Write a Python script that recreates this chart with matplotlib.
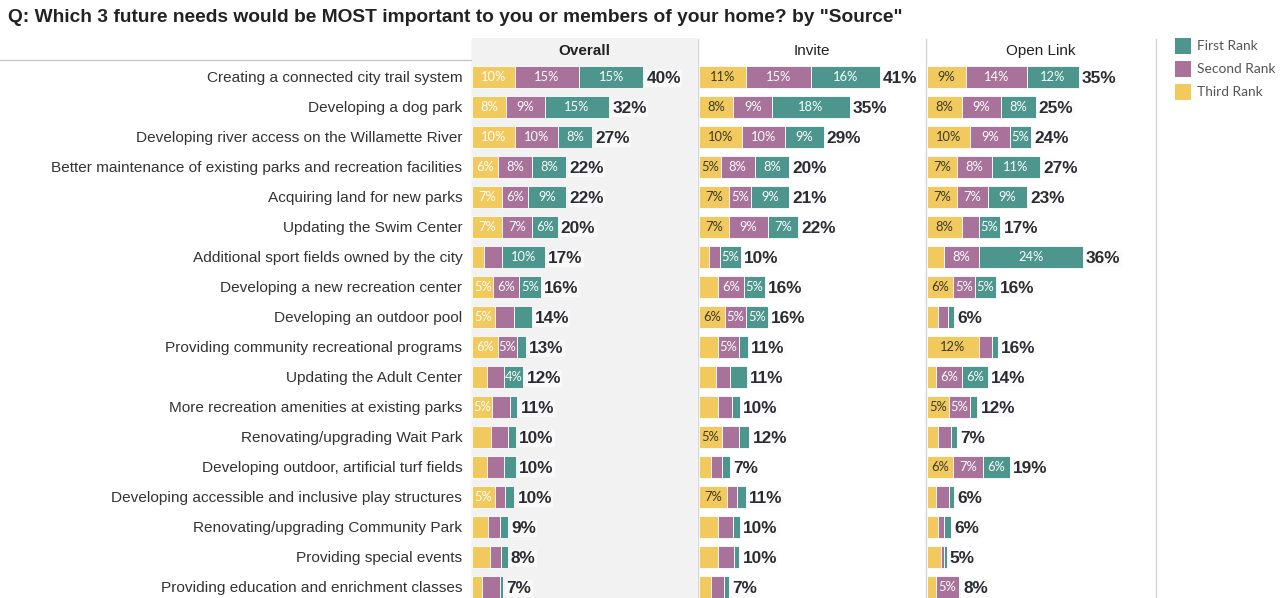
import matplotlib
matplotlib.use("Agg")
import matplotlib.pyplot as plt
from matplotlib.patches import Rectangle

plt.rcParams['font.family'] = ['Liberation Sans', 'DejaVu Sans']

title = 'Q: Which 3 future needs would be MOST important to you or members of your home? by "Source"'

categories = [
    "Creating a connected city trail system",
    "Developing a dog park",
    "Developing river access on the Willamette River",
    "Better maintenance of existing parks and recreation facilities",
    "Acquiring land for new parks",
    "Updating the Swim Center",
    "Additional sport fields owned by the city",
    "Developing a new recreation center",
    "Developing an outdoor pool",
    "Providing community recreational programs",
    "Updating the Adult Center",
    "More recreation amenities at existing parks",
    "Renovating/upgrading Wait Park",
    "Developing outdoor, artificial turf fields",
    "Developing accessible and inclusive play structures",
    "Renovating/upgrading Community Park",
    "Providing special events",
    "Providing education and enrichment classes",
]

panels = ["Overall", "Invite", "Open Link"]
series_names = ["Third Rank", "Second Rank", "First Rank"]

# Overall
overall_third = [10, 8, 10, 6, 7, 7, 2.7, 5, 5.3, 6, 3.4, 4.7, 4.4, 3.4, 5.4, 3.8, 4.1, 2.4]
overall_second = [15, 9, 10, 8, 6, 7, 4.3, 6, 4.4, 4.6, 4.1, 4.1, 3.9, 4.1, 2.4, 2.7, 2.6, 4.1]
overall_first = [15, 15, 8, 8, 9, 6, 10, 5, 4.2, 2.0, 4.5, 1.8, 2.0, 2.8, 2.1, 1.9, 1.6, 0.8]
overall_total = [40, 32, 27, 22, 22, 20, 17, 16, 14, 13, 12, 11, 10, 10, 10, 9, 8, 7]

# Invite
invite_third = [11, 8, 10, 5, 7, 7, 2.3, 4.4, 6, 4.3, 4.0, 4.4, 5.3, 2.7, 6.6, 4.3, 4.3, 2.9]
invite_second = [15, 9, 10, 8, 5, 9, 2.6, 6, 5, 4.9, 3.3, 3.3, 3.9, 2.6, 2.2, 3.6, 3.9, 2.9]
invite_first = [16, 18, 9, 8, 9, 7, 4.9, 5, 5, 2.2, 3.8, 1.8, 2.5, 1.9, 2.2, 1.6, 1.2, 1.2]
invite_total = [41, 35, 29, 20, 21, 22, 10, 16, 16, 11, 11, 10, 12, 7, 11, 10, 10, 7]

# Open Link
open_third = [9, 8, 10, 7, 7, 8, 3.9, 6, 2.6, 12, 2.0, 5, 2.6, 6, 2.0, 2.6, 3.3, 2.0]
open_second = [14, 9, 9, 8, 7, 3.9, 8, 5, 2.2, 3.0, 6, 5, 3.0, 7, 3.0, 1.3, 0.6, 5.3]
open_first = [12, 8, 5, 11, 9, 5, 24, 5, 1.4, 1.3, 6, 1.6, 1.3, 6, 1.3, 1.6, 0.6, 0.3]
open_total = [35, 25, 24, 27, 23, 17, 36, 16, 6, 16, 14, 12, 7, 19, 6, 6, 5, 8]

panel_data = [
    (overall_third, overall_second, overall_first, overall_total),
    (invite_third, invite_second, invite_first, invite_total),
    (open_third, open_second, open_first, open_total),
]

colors = {"Third Rank": "#f1c95c", "Second Rank": "#a9729b", "First Rank": "#4c968d"}
text_dark = "#333333"

W, H = 1288, 598
fig = plt.figure(figsize=(W / 100, H / 100), dpi=100)

bg = fig.add_axes([0, 0, 1, 1])
bg.set_xlim(0, W)
bg.set_ylim(H, 0)
bg.axis("off")

def rect(x0, y0, x1, y1):
    return [x0 / W, 1 - y1 / H, (x1 - x0) / W, (y1 - y0) / H]

# Title
bg.text(8, 18, title, fontsize=13.8, fontweight="bold", color="#222222",
        va="center", ha="left")

# Decorative separators
line_c = "#d4d4d4"
bg.plot([0, 472], [60, 60], color="#c8c8c8", lw=1)
for xv in [472, 698, 926, 1156]:
    bg.plot([xv, xv], [39, H], color=line_c, lw=1)

panel_px = [(472, 697), (699, 925), (927, 1155)]
n = len(categories)
for p, (name, (x0, x1), data) in enumerate(zip(panels, panel_px, panel_data)):
    ax = fig.add_axes(rect(x0, 38, x1, H))
    ax.set_xlim(0, 52.5)
    ax.set_ylim(17.37, -1.3)
    if p == 0:
        ax.set_facecolor("#f2f2f2")
    else:
        ax.set_facecolor("none")
    for s in ax.spines.values():
        s.set_visible(False)
    ax.set_xticks([])
    if p == 0:
        ax.set_yticks(range(n))
        ax.set_yticklabels(categories, fontsize=11.1, color=text_dark)
        ax.tick_params(axis="y", length=0, pad=7)
    else:
        ax.set_yticks([])

    third, second, first, total = data
    left = [0.0] * n
    for sname, vals in zip(series_names, [third, second, first]):
        ypos = list(range(n))
        ax.barh(ypos, vals, left=left, height=0.73, color=colors[sname],
                edgecolor="white", linewidth=0.6)
        for i, v in enumerate(vals):
            if v >= 4.5:
                if sname == "Third Rank" and p > 0:
                    tc = "#3a3a2a"
                else:
                    tc = "white"
                ax.text(left[i] + v / 2, i, f"{v:.0f}%", ha="center", va="center",
                        fontsize=9.3, color=tc, family=["Lato", "DejaVu Sans"])
        left = [l + v for l, v in zip(left, vals)]
    for i, t in enumerate(total):
        ax.text(left[i] + 0.7, i + 0.05, f"{t}%", ha="left", va="center",
                fontsize=12.4, fontweight="bold", color="#2b2b33",
                bbox=dict(facecolor="#fbfbfb", edgecolor="none", pad=1.0, alpha=0.8))
    ax.text(26.25, -0.87, name, ha="center", va="center", fontsize=11,
            color="#222222", fontweight="bold" if p == 0 else "normal")

# Legend
leg_items = ["First Rank", "Second Rank", "Third Rank"]
for k, lab in enumerate(leg_items):
    yc = 46 + 23 * k
    bg.add_patch(Rectangle((1175, yc - 8), 16, 16, facecolor=colors[lab], edgecolor="none"))
    bg.text(1197, yc, lab, fontsize=9.9, color="#555555", va="center", ha="left",
            family=["Lato", "DejaVu Sans"])

fig.savefig("out.png", dpi=100)
